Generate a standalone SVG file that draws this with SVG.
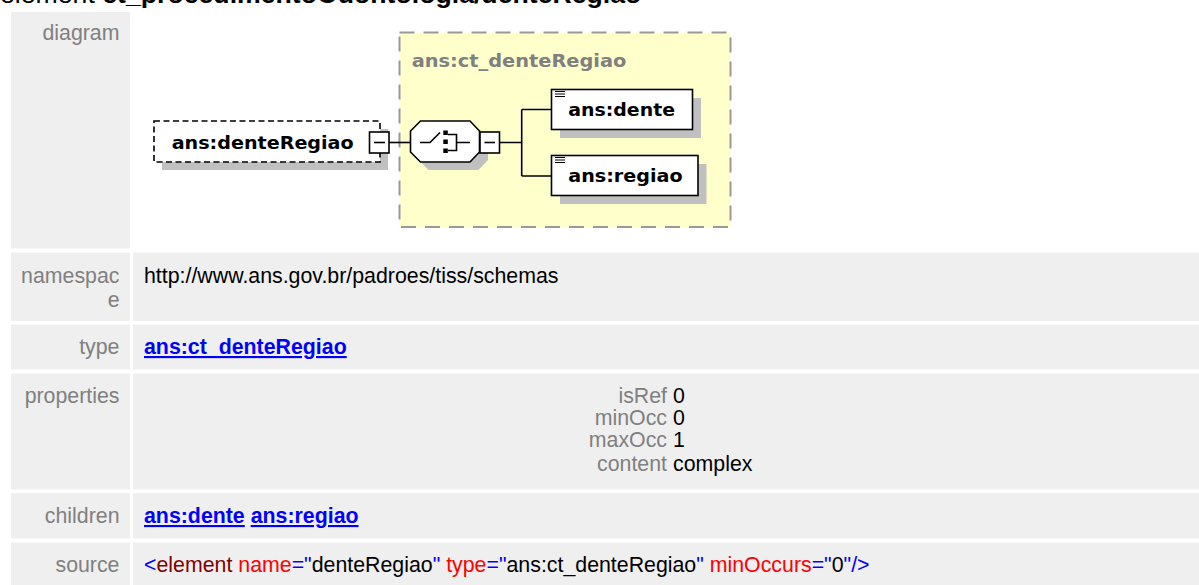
<svg xmlns="http://www.w3.org/2000/svg" width="1199" height="585" viewBox="0 0 1199 585">
<style>
.cell{fill:#efefef}
.lbl{font-family:"Liberation Sans",Arial,sans-serif;font-size:21.33px;fill:#808080;text-anchor:end}
.val{font-family:"Liberation Sans",Arial,sans-serif;font-size:21.33px;fill:#000}
.link{font-family:"Liberation Sans",Arial,sans-serif;font-size:21.33px;font-weight:bold;fill:#0000ff;text-decoration:underline}
.nt{font-family:"DejaVu Sans",Verdana,sans-serif;font-size:18.5px;font-weight:bold;fill:#000}
.shadow{fill:#c0c0c0}
.box{fill:#fff;stroke:#000;stroke-width:1.6}
.wire{fill:none;stroke:#000;stroke-width:1.6}
</style>
<rect width="1199" height="585" fill="#fff"/>
<text x="0" y="3" font-family="Liberation Sans,Arial,sans-serif" font-size="26.67" fill="#000">element <tspan font-weight="bold">ct_procedimentoOdontologia/denteRegiao</tspan></text>

<!-- table -->
<rect class="cell" x="11" y="12" width="119" height="236.5"/>
<text class="lbl" x="119.5" y="40">diagram</text>

<rect class="cell" x="11" y="252.5" width="119" height="68.5"/>
<rect class="cell" x="133" y="252.5" width="1066" height="68.5"/>
<text class="lbl" x="119.5" y="283">namespac</text>
<text class="lbl" x="119.5" y="306.5">e</text>
<text class="val" x="144" y="283">http://www.ans.gov.br/padroes/tiss/schemas</text>

<rect class="cell" x="11" y="324.5" width="119" height="45"/>
<rect class="cell" x="133" y="324.5" width="1066" height="45"/>
<text class="lbl" x="119.5" y="354">type</text>
<text class="link" x="144" y="354">ans:ct_denteRegiao</text>

<rect class="cell" x="11" y="373.5" width="119" height="116"/>
<rect class="cell" x="133" y="373.5" width="1066" height="116"/>
<text class="lbl" x="119.5" y="402.5">properties</text>
<text class="lbl" x="667" y="402.5">isRef</text>
<text class="val" x="673" y="402.5">0</text>
<text class="lbl" x="667" y="424.5">minOcc</text>
<text class="val" x="673" y="424.5">0</text>
<text class="lbl" x="667" y="447">maxOcc</text>
<text class="val" x="673" y="447">1</text>
<text class="lbl" x="667" y="471">content</text>
<text class="val" x="673" y="471">complex</text>

<rect class="cell" x="11" y="493" width="119" height="45.5"/>
<rect class="cell" x="133" y="493" width="1066" height="45.5"/>
<text class="lbl" x="119.5" y="523">children</text>
<text class="link" x="144" y="523">ans:dente</text>
<text class="link" x="250.7" y="523">ans:regiao</text>

<rect class="cell" x="11" y="542.5" width="119" height="42.5"/>
<rect class="cell" x="133" y="542.5" width="1066" height="42.5"/>
<text class="lbl" x="119.5" y="572">source</text>
<text class="val" x="144" y="572"><tspan fill="#0000ff">&lt;</tspan><tspan fill="#800000">element</tspan><tspan fill="#ff0000"> name</tspan><tspan fill="#0000ff">="</tspan><tspan fill="#000">denteRegiao</tspan><tspan fill="#0000ff">"</tspan><tspan fill="#ff0000"> type</tspan><tspan fill="#0000ff">="</tspan><tspan fill="#000">ans:ct_denteRegiao</tspan><tspan fill="#0000ff">"</tspan><tspan fill="#ff0000"> minOccurs</tspan><tspan fill="#0000ff">="</tspan><tspan fill="#000">0</tspan><tspan fill="#0000ff">"/&gt;</tspan></text>

<!-- complex type container -->
<g id="node-ct_denteRegiao">
<rect x="399.5" y="32.5" width="331" height="194.5" fill="#ffffcc" stroke="#999" stroke-width="2" stroke-dasharray="15 9"/>
<text class="nt" x="411.7" y="66.7" style="fill:#808080" textLength="214.7" lengthAdjust="spacingAndGlyphs">ans:ct_denteRegiao</text>
</g>

<!-- connectors -->
<g id="connectors">
<path class="wire" d="M389,142.5 H410.5"/>
<path class="wire" d="M499.5,142.5 H521.7 M521.7,109.5 V176 M521.7,109.5 H551.5 M521.7,176 H551.5"/>
</g>

<!-- root element -->
<g id="node-denteRegiao">
<rect class="shadow" x="162" y="129" width="226" height="41"/>
<rect x="154" y="121" width="226" height="41" fill="#fff" stroke="#000" stroke-width="1.6" stroke-dasharray="6 3.5"/>
<text class="nt" x="171.7" y="148.5" textLength="182" lengthAdjust="spacingAndGlyphs">ans:denteRegiao</text>
<rect class="box" x="369.5" y="132" width="19.5" height="21"/>
<path class="wire" d="M374,142.5 H385"/>
</g>

<!-- choice compositor -->
<g id="node-choice">
<polygon class="shadow" points="428.5,129 478.5,129 488,139 488,160 478.5,170 428.5,170 419,160 419,139"/>
<polygon class="box" points="420.5,121 470,121 479.5,131 479.5,152 470,162 420.5,162 410.5,152 410.5,131"/>
<path class="wire" d="M420,142.5 H430 L440,132.5"/>
<rect x="443.3" y="130.5" width="4.5" height="4.5" fill="#000"/>
<rect x="443.3" y="139.5" width="4.5" height="4.5" fill="#000"/>
<rect x="443.3" y="148.5" width="4.5" height="4.5" fill="#000"/>
<path class="wire" d="M448,134.5 H456.5 V150.5 H448 M456.5,142.5 H470"/>
<rect class="box" x="480" y="132" width="19.5" height="21"/>
<path class="wire" d="M484.5,142.5 H495"/>
</g>

<!-- child elements -->
<g id="node-dente">
<rect class="shadow" x="560" y="98" width="141" height="40"/>
<rect class="box" x="551.5" y="89.5" width="141" height="40"/>
<path d="M555,91.5 H565 M555,94 H565 M555,96.5 H565" stroke="#000" stroke-width="1"/>
<text class="nt" x="568.3" y="116" textLength="106.7" lengthAdjust="spacingAndGlyphs">ans:dente</text>
</g>
<g id="node-regiao">
<rect class="shadow" x="560" y="164" width="146.5" height="40"/>
<rect class="box" x="551.5" y="155.5" width="146.5" height="40"/>
<path d="M555,157.5 H565 M555,160 H565 M555,162.5 H565" stroke="#000" stroke-width="1"/>
<text class="nt" x="568.3" y="182" textLength="114.3" lengthAdjust="spacingAndGlyphs">ans:regiao</text>
</g>
</svg>
